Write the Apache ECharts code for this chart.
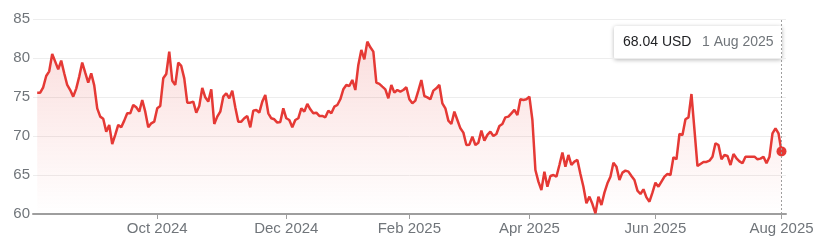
<!DOCTYPE html>
<html><head><meta charset="utf-8">
<script src="https://cdn.jsdelivr.net/npm/echarts@6/dist/echarts.min.js"></script>
<style>html,body{margin:0;padding:0;background:#fff}#c{width:819px;height:242px}</style>
</head><body><div id="c"></div>
<script>
// ---- data ----
const startDate = '2024-08-05';
const endDate = '2025-08-01';
const holidays = ['2024-09-02','2024-11-28','2024-12-25','2025-01-01','2025-01-09','2025-01-20',
  '2025-02-17','2025-04-18','2025-05-26','2025-06-19','2025-07-04'];
const currency = 'USD';
const monthNames = ['Jan','Feb','Mar','Apr','May','Jun','Jul','Aug','Sep','Oct','Nov','Dec'];
const labelMonths = [1, 3, 5, 7, 9, 11]; // Feb, Apr, Jun, Aug, Oct, Dec
const yTicks = [60, 65, 70, 75, 80, 85];
const values = [
  75.58, 75.58, 76.27, 77.72, 78.32, 80.55, 79.56, 78.58, 79.69, 78.07,
  76.57, 75.92, 75.07, 76.10, 77.64, 79.44, 78.15, 76.87, 78.07, 76.52,
  73.57, 72.50, 72.24, 70.57, 71.43, 68.99, 70.15, 71.43, 71.13, 71.99,
  72.93, 72.93, 74.00, 73.70, 73.14, 74.64, 73.14, 71.13, 71.64, 71.86,
  73.57, 73.87, 77.42, 77.98, 80.85, 77.12, 76.57, 79.44, 79.01, 77.42,
  74.30, 74.30, 74.43, 73.01, 73.87, 76.18, 74.98, 74.43, 76.01, 71.56,
  72.50, 73.14, 75.07, 75.50, 74.85, 75.84, 73.70, 71.86, 71.86, 72.29,
  72.59, 71.13, 73.27, 73.36, 73.01, 74.43, 75.28, 72.93, 72.29, 72.16,
  71.73,
  71.82, 73.57, 72.29, 72.07, 71.13, 72.07, 72.29, 73.57, 73.14, 74.13,
  73.44, 72.93, 73.01, 72.59, 72.59, 72.41, 73.27, 72.93, 73.78, 74.00,
  74.73, 76.01, 76.57, 76.44, 77.21, 75.92, 79.14, 81.06, 79.86, 82.13,
  81.40, 80.85, 76.87, 76.70, 76.35, 76.01, 74.85, 76.57, 75.58, 75.92,
  75.71, 75.92, 76.27, 74.73, 74.21, 74.55, 75.84, 77.21, 75.15, 74.98,
  74.73, 75.84, 76.14, 76.57, 74.21, 73.57, 71.99, 71.56, 73.14, 72.07,
  71.00, 70.45, 68.86, 68.90, 69.93, 68.86, 69.16, 70.70, 69.42, 70.15,
  70.57, 70.02, 70.27, 71.30, 71.56, 72.41, 72.50, 72.93, 73.36, 72.71,
  74.73, 74.64, 74.73, 75.07, 72.07, 65.65, 64.15,
  63.08, 65.44, 63.51, 64.88, 65.01, 64.79, 66.29, 67.88, 66.08, 67.58,
  66.29, 66.72, 66.94, 65.14, 63.51, 61.37, 62.23, 61.28, 60.09, 62.23,
  61.16, 62.74, 63.94, 64.79, 66.59, 66.08, 64.37, 65.31, 65.57, 65.44,
  64.88, 64.37, 63.00, 62.57, 63.17, 62.14, 61.58, 62.74, 64.02, 63.51,
  64.15, 64.79, 65.14, 65.01, 67.28, 67.02, 70.27, 70.15, 72.16, 72.41,
  75.41, 70.79, 66.16, 66.42, 66.68, 66.68, 66.85, 67.36, 69.08, 68.86,
  67.02, 67.58, 67.45, 66.29, 67.71, 67.15, 66.76, 66.51, 67.36, 67.36,
  67.36, 67.36, 67.02, 67.11, 67.36, 66.51, 67.36, 70.36, 71.00, 70.36, 68.04
];

// ---- trading-day categories ----
function buildDates() {
  const out = [];
  const d = new Date(startDate + 'T00:00:00Z');
  const end = new Date(endDate + 'T00:00:00Z');
  while (d <= end) {
    const wd = d.getUTCDay();
    const iso = d.toISOString().slice(0, 10);
    if (wd !== 0 && wd !== 6 && holidays.indexOf(iso) < 0) out.push(new Date(d.getTime()));
    d.setUTCDate(d.getUTCDate() + 1);
  }
  return out;
}
const dates = buildDates();
const N = values.length;
const tickIdx = [];
for (let i = 1; i < dates.length; i++) {
  const m = dates[i].getUTCMonth();
  if (m !== dates[i - 1].getUTCMonth() && labelMonths.indexOf(m) >= 0) tickIdx.push(i);
}
const monthLabel = i => monthNames[dates[i].getUTCMonth()] + ' ' + dates[i].getUTCFullYear();
const last = dates[Math.min(N, dates.length) - 1];
const lastDateText = last.getUTCDate() + ' ' + monthNames[last.getUTCMonth()] + ' ' + last.getUTCFullYear();
const lastValueText = values[N - 1].toFixed(2) + ' ' + currency;

const RED = '#e53935';
const GRAY = '#70757a';
const FONT = 'Arial, "Liberation Sans", sans-serif';

const chart = echarts.init(document.getElementById('c'), null, { renderer: 'canvas' });
chart.setOption({
  animation: false,
  grid: { left: 33, right: 33, top: 19.3, bottom: 28, containLabel: false },
  xAxis: {
    type: 'value',
    min: -1.4,
    max: N - 1 + 1.5,
    axisLine: { show: true, onZero: false, lineStyle: { color: '#9e9e9e', width: 2 } },
    axisTick: { show: true, customValues: tickIdx, length: 5, lineStyle: { color: '#9e9e9e', width: 1 } },
    axisLabel: { customValues: tickIdx, formatter: v => monthLabel(v), color: GRAY, fontSize: 15, fontFamily: FONT, margin: 7 },
    splitLine: { show: false }
  },
  yAxis: {
    type: 'value',
    min: yTicks[0],
    max: yTicks[yTicks.length - 1],
    interval: yTicks[1] - yTicks[0],
    axisLine: { show: false },
    axisTick: { show: false },
    axisLabel: { color: GRAY, fontSize: 15, fontFamily: FONT, margin: 3 },
    splitLine: { lineStyle: { color: '#ededed', width: 1 } }
  },
  series: [
    {
      type: 'line',
      data: values.map((v, i) => [i, v]),
      showSymbol: false,
      lineStyle: { color: RED, width: 2.5 },
      itemStyle: { color: RED },
      areaStyle: {
        color: new echarts.graphic.LinearGradient(0, 0, 0, 1, [
          { offset: 0, color: 'rgba(229,57,53,0.24)' },
          { offset: 1, color: 'rgba(229,57,53,0)' }
        ])
      },
      markLine: {
        silent: true,
        symbol: 'none',
        label: { show: false },
        lineStyle: { color: '#9e9e9e', type: [2, 2], width: 1 },
        data: [{ xAxis: N - 1 }]
      },
      z: 3
    },
    {
      type: 'scatter',
      data: [[N - 1, values[N - 1]]],
      symbolSize: 10,
      itemStyle: { color: RED, opacity: 1 },
      z: 4
    }
  ],
  graphic: [
    {
      type: 'group',
      left: 614,
      top: 26,
      children: [
        {
          type: 'rect',
          shape: { x: 0, y: 0, width: 168, height: 33, r: 2 },
          style: { fill: '#fff', shadowBlur: 4, shadowColor: 'rgba(0,0,0,0.28)', shadowOffsetY: 1 }
        },
        {
          type: 'text', x: 9, y: 16.5,
          style: { text: lastValueText, fill: '#202124', fontSize: 14, fontFamily: FONT, verticalAlign: 'middle' }
        },
        {
          type: 'text', x: 88, y: 16.5,
          style: { text: lastDateText, fill: GRAY, fontSize: 14, fontFamily: FONT, verticalAlign: 'middle' }
        }
      ]
    }
  ]
});
</script>
</body></html>
